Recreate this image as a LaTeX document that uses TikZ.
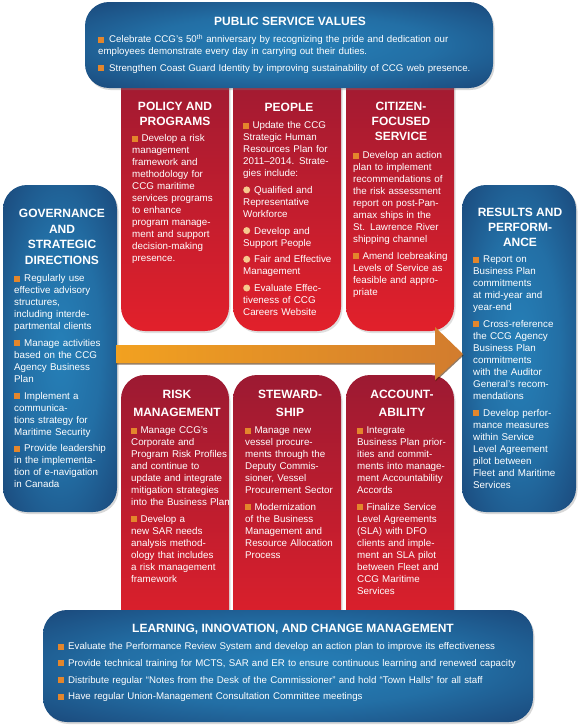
\documentclass[tikz,border=0pt]{standalone}
\usepackage{fontspec}
\setmainfont{Liberation Sans}
\usetikzlibrary{shadows}
\definecolor{bluein}{HTML}{2680B8}
\definecolor{blueout}{HTML}{183B6C}
\definecolor{redtop}{HTML}{9C1A32}
\definecolor{redbot}{HTML}{E2202B}
\definecolor{bulor}{HTML}{E3862C}
\definecolor{peach}{HTML}{F6C98E}
\definecolor{arrl}{HTML}{F2A120}
\definecolor{arrr}{HTML}{D27C2E}
\pgfdeclareradialshading{bluerad}{\pgfpoint{0bp}{0bp}}{color(0bp)=(bluein); color(18bp)=(bluein!75!blueout); color(42bp)=(blueout); color(50bp)=(blueout)}
\newcommand{\sqb}{{\color{bulor}\rule{6pt}{6pt}}\hspace{3.3pt}}
\newcommand{\hsq}[1][10pt]{\noindent\hangindent=#1\hangafter=1\makebox[#1][l]{\color{bulor}\rule{6pt}{6pt}}}
\newcommand{\hci}{\noindent\hangindent=11pt\hangafter=1\makebox[11pt][l]{\tikz[baseline=0pt]\fill[peach] (0pt,3.5pt) circle (3.5pt);}}
\newcommand{\fl}{\rule{0pt}{9pt}}
\newcommand{\hl}{\rule{0pt}{10pt}}
\tikzset{
  bluebox/.style={shading=bluerad, rounded corners=24pt,
    drop shadow={shadow xshift=1.5pt, shadow yshift=-2pt, opacity=0.3}},
  redcol/.style={top color=redtop, bottom color=redbot, rounded corners=24pt,
    drop shadow={shadow xshift=1.5pt, shadow yshift=-2pt, opacity=0.25}},
  head/.style={anchor=north, inner sep=0pt, text=white, align=center,
    font=\bfseries\fontsize{12}{#1}\selectfont},
  head/.default=15,
  body/.style={anchor=north west, inner sep=0pt, text=white, text width=#1,
    font=\fontsize{9.8}{12}\selectfont,
    execute at begin node={\setlength{\parskip}{4.7pt}\setlength{\parindent}{0pt}\raggedright}},
  widebody/.style={body=#1, font=\fontsize{9.7}{12}\selectfont},
}
\begin{document}
\begin{tikzpicture}[x=1pt,y=-1pt]
\useasboundingbox[fill=white] (0,0) rectangle (578,728);
% top red columns
\shade[redcol] (121,60) rectangle (229,331);
\shade[redcol] (233,60) rectangle (341,331);
\shade[redcol] (346,60) rectangle (454,331);
% bottom red columns
\shade[redcol] (121,375) rectangle (229,645);
\shade[redcol] (233,375) rectangle (341,645);
\shade[redcol] (346,375) rectangle (454,645);
% blue boxes
\shade[bluebox] (85,2) rectangle (493,88);
\shade[bluebox] (43,610) rectangle (533,722);
\shade[bluebox] (3,185) rectangle (117,512);
\shade[bluebox] (462,185) rectangle (576,512);
% arrow
\shade[left color=arrl, right color=arrr,
  drop shadow={shadow xshift=0.5pt, shadow yshift=-1.5pt, opacity=0.6, fill=black!70!orange}]
  (116,345) -- (435,345) -- (435,327) -- (463,354) -- (435,380) -- (435,363) -- (116,363) -- cycle;

% ---- top box text
\node[head] (psvT) at (290,15.3) {\hl PUBLIC SERVICE VALUES};
\node[widebody=400pt] (psvB) at (98,33.5) {%
\hsq[11pt]\fl Celebrate CCG’s 50\textsuperscript{th} anniversary by recognizing the pride and dedication our\\
employees demonstrate every day in carrying out their duties.\par
\hsq[11pt]Strengthen Coast Guard Identity by improving sustainability of CCG web presence.\par};

% ---- top columns
\node[head] (polT) at (175,100.5) {\hl POLICY AND\\PROGRAMS};
\node[body=110pt] (polB) at (132,132.5) {%
\sqb\fl Develop a risk\\ management\\ framework and\\ methodology for\\ CCG maritime\\ services programs\\ to enhance\\ program manage-\\ ment and support\\ decision-making\\ presence.\par};

\node[head] (peoT) at (289,101.3) {\hl PEOPLE};
\node[body=110pt] (peoB) at (243,119.5) {%
\sqb\fl Update the CCG\\ Strategic Human\\ Resources Plan for\\ 2011–2014. Strate-\\ gies include:\par
\hci Qualified and\\ Representative\\ Workforce\par
\hci Develop and\\ Support People\par
\hci Fair and Effective\\ Management\par
\hci Evaluate Effec-\\ tiveness of CCG\\ Careers Website\par};

\node[head] (citT) at (401,100.3) {\hl CITIZEN-\\FOCUSED\\SERVICE};
\node[body=110pt] (citB) at (353,149.5) {%
\sqb\fl Develop an action\\ plan to implement\\ recommendations of\\ the risk assessment\\ report on post-Pan-\\ amax ships in the\\ St. Lawrence River\\ shipping channel\par
\sqb Amend Icebreaking\\ Levels of Service as\\ feasible and appro-\\ priate\par};

% ---- left box
\node[head=15.5] (govT) at (62,207.3) {\hl GOVERNANCE\\AND\\STRATEGIC\\DIRECTIONS};
\node[body=110pt] (govB) at (14,272.5) {%
\hsq\fl Regularly use\\ effective advisory\\ structures,\\ including interde-\\ partmental clients\par
\hsq Manage activities\\ based on the CCG\\ Agency Business\\ Plan\par
\hsq Implement a\\ communica-\\ tions strategy for\\ Maritime Security\par
\hsq Provide leadership\\ in the implementa-\\ tion of e-navigation\\ in Canada\par};

% ---- right box
\node[head] (resT) at (520,206.3) {\hl RESULTS AND\\PERFORM-\\ANCE};
\node[body=110pt] (resB) at (473,253.5) {%
\hsq\fl Report on\\ Business Plan\\ commitments\\ at mid-year and\\ year-end\par
\hsq Cross-reference\\ the CCG Agency\\ Business Plan\\ commitments\\ with the Auditor\\ General’s recom-\\ mendations\par
\hsq Develop perfor-\\ mance measures\\ within Service\\ Level Agreement\\ pilot between\\ Fleet and Maritime\\ Services\par};

% ---- bottom columns
\node[head=17.5] (riskT) at (177,388.3) {\hl RISK\\MANAGEMENT};
\node[body=110pt] (riskB) at (131,424.5) {%
\sqb\fl Manage CCG’s\\ Corporate and\\ Program Risk Profiles\\ and continue to\\ update and integrate\\ mitigation strategies\\ into the Business Plan\par
\sqb Develop a\\ new SAR needs\\ analysis method-\\ ology that includes\\ a risk management\\ framework\par};

\node[head=17.5] (stwT) at (290,388.3) {\hl STEWARD-\\SHIP};
\node[body=110pt] (stwB) at (245,424.5) {%
\sqb\fl Manage new\\ vessel procure-\\ ments through the\\ Deputy Commis-\\ sioner, Vessel\\ Procurement Sector\par
\sqb Modernization\\ of the Business\\ Management and\\ Resource Allocation\\ Process\par};

\node[head=17.5] (accT) at (402,388.3) {\hl ACCOUNT-\\ABILITY};
\node[body=110pt] (accB) at (357,424.5) {%
\sqb\fl Integrate\\ Business Plan prior-\\ ities and commit-\\ ments into manage-\\ ment Accountability\\ Accords\par
\sqb Finalize Service\\ Level Agreements\\ (SLA) with DFO\\ clients and imple-\\ ment an SLA pilot\\ between Fleet and\\ CCG Maritime\\ Services\par};

% ---- bottom box
\node[head] (licT) at (293,622.3) {\hl LEARNING, INNOVATION, AND CHANGE MANAGEMENT};
\node[widebody=480pt] (licB) at (58,640.5) {%
\hsq\fl Evaluate the Performance Review System and develop an action plan to improve its effectiveness\par
\hsq Provide technical training for MCTS, SAR and ER to ensure continuous learning and renewed capacity\par
\hsq Distribute regular “Notes from the Desk of the Commissioner” and hold “Town Halls” for all staff\par
\hsq Have regular Union-Management Consultation Committee meetings\par};
\end{tikzpicture}
\end{document}
